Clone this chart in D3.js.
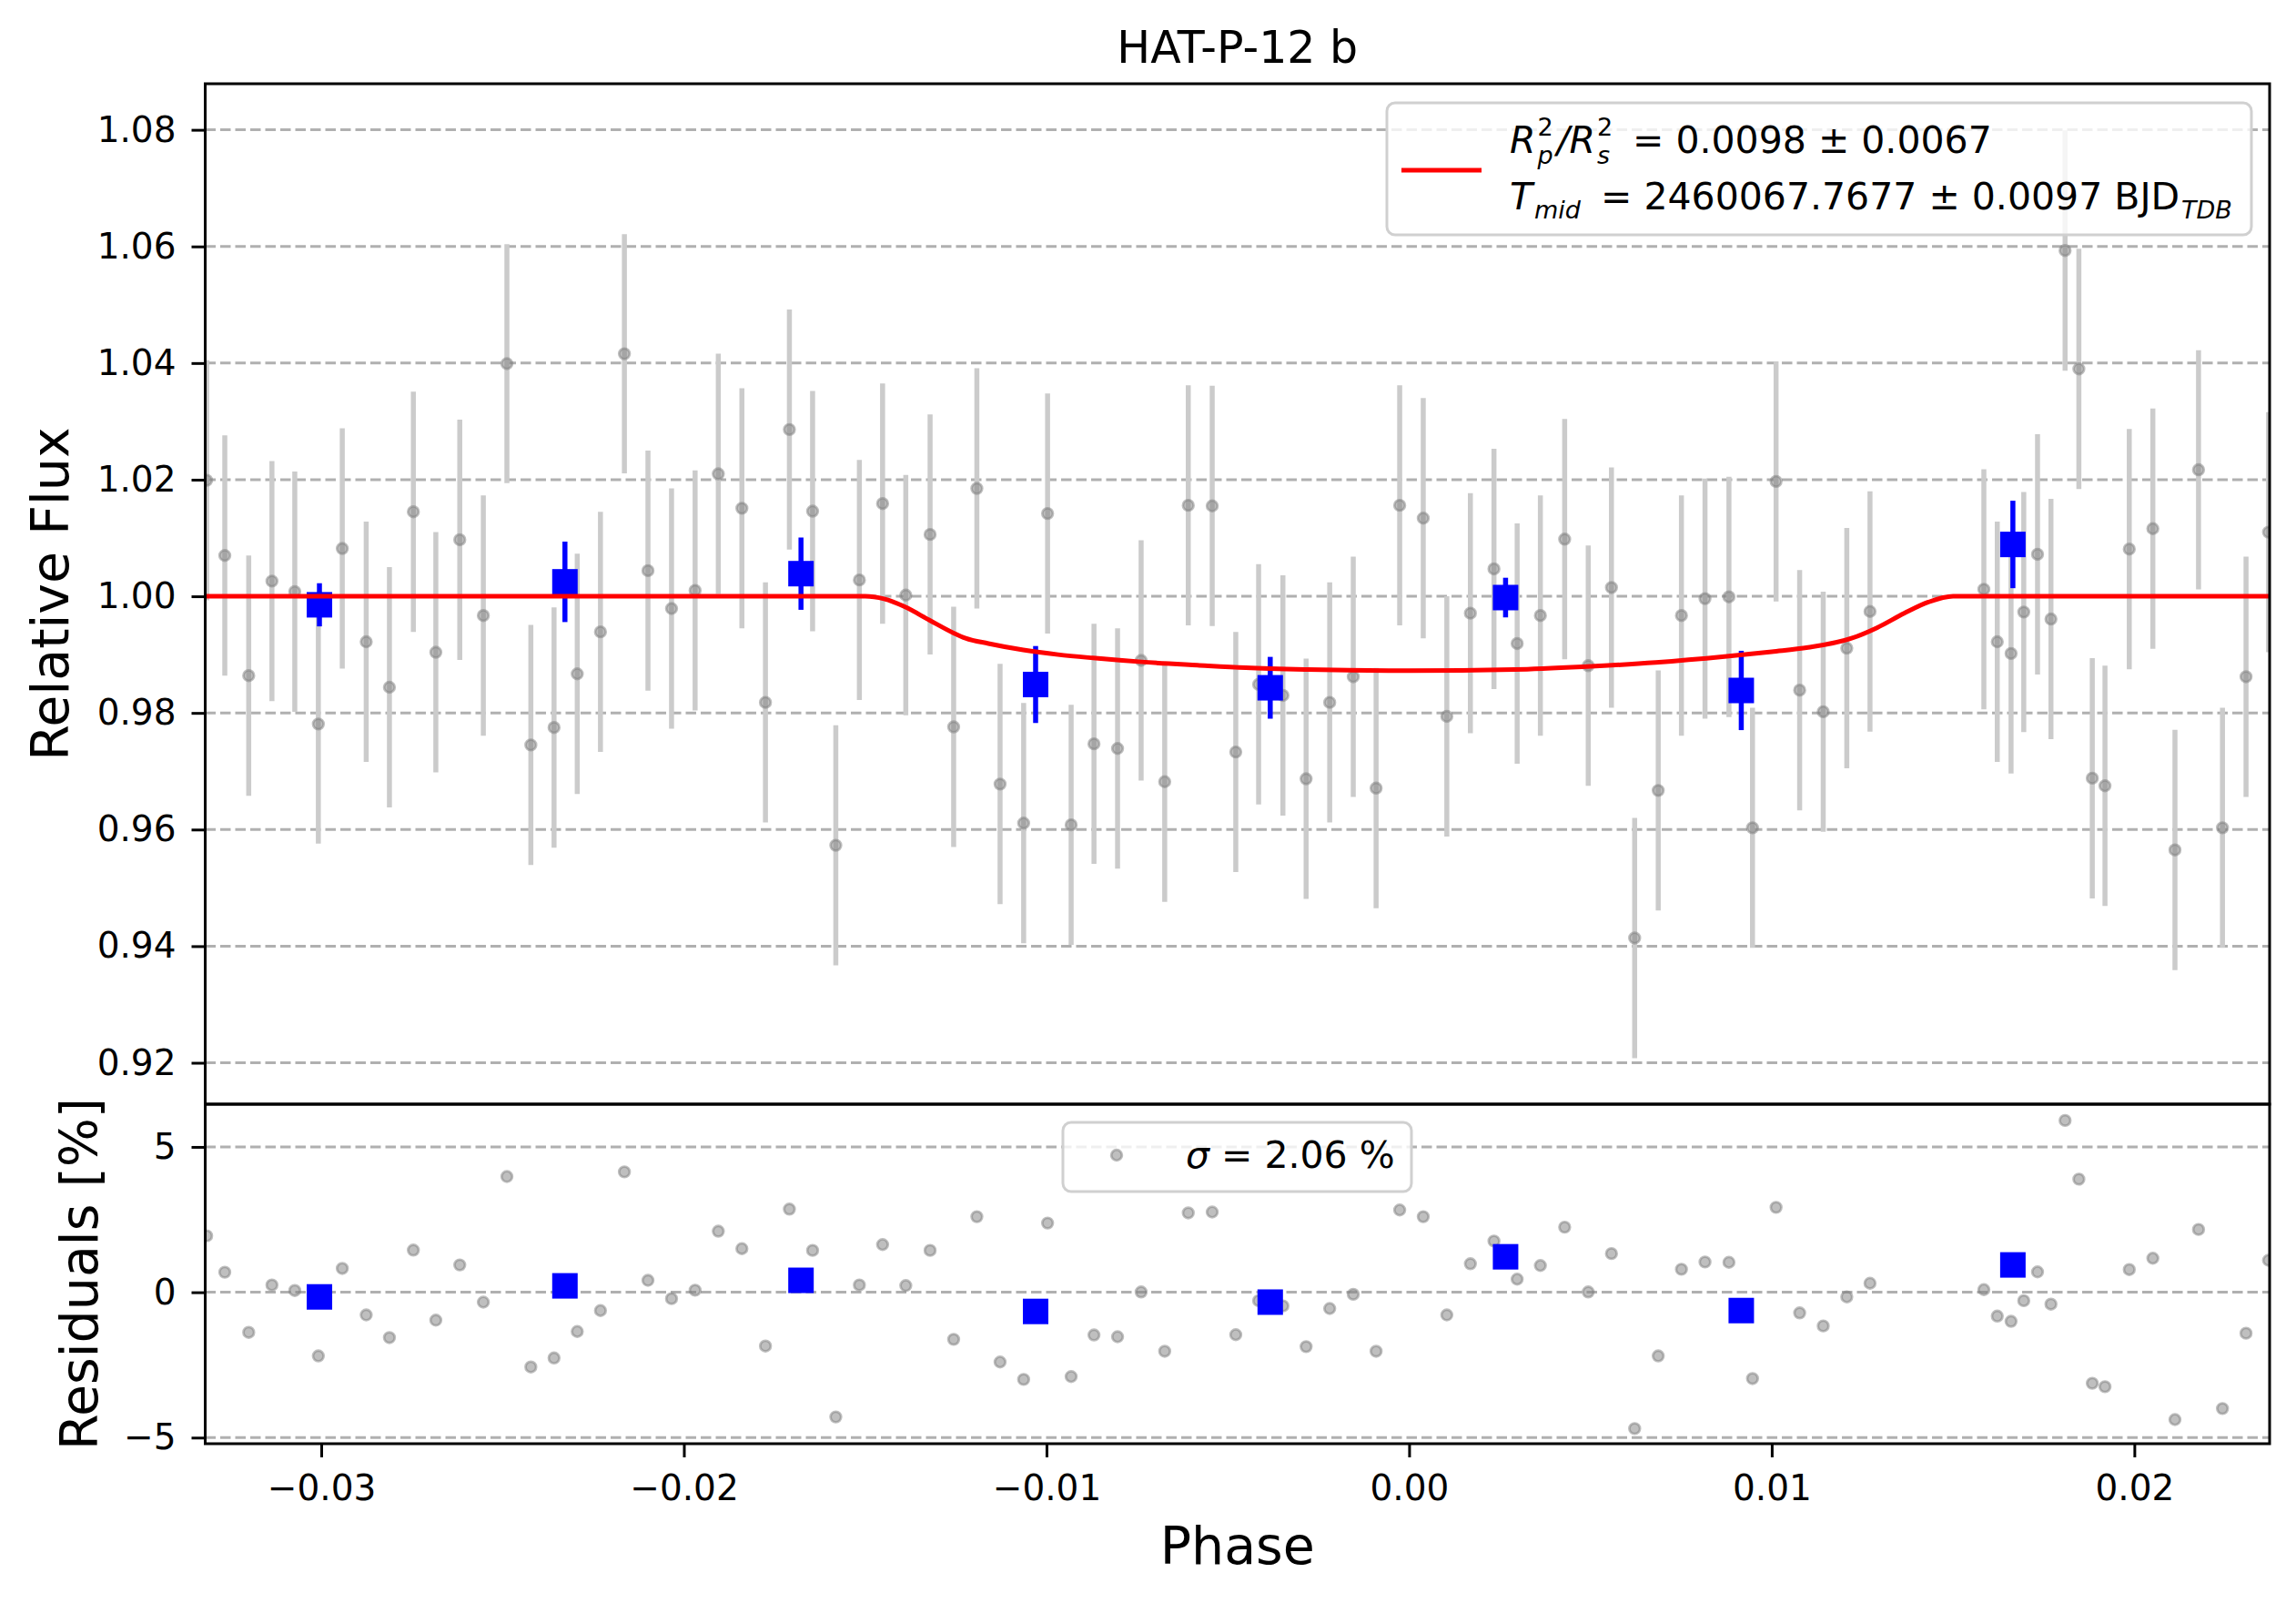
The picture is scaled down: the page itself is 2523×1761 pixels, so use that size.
<!DOCTYPE html>
<html>
<head>
<meta charset="utf-8">
<script src="https://cdn.jsdelivr.net/npm/d3@7"></script>
<style>
  html, body { margin: 0; padding: 0; background: #fff; }
  svg { display: block; font-family: 'DejaVu Sans', sans-serif; }
  .pre { white-space: pre; }
</style>
</head>
<body>
<svg id="chart" width="2523" height="1761"></svg>
<script>
// unbinned points
const PHASE = [
  -0.03316, -0.03266, -0.03200, -0.03136, -0.03073, -0.03008, -0.02942, -0.02876, -0.02812, -0.02746,
  -0.02684, -0.02618, -0.02553, -0.02488, -0.02422, -0.02358, -0.02294, -0.02230, -0.02164, -0.02099,
  -0.02034, -0.01969, -0.01905, -0.01840, -0.01775, -0.01709, -0.01645, -0.01581, -0.01516, -0.01452,
  -0.01388, -0.01321, -0.01256, -0.01192, -0.01128, -0.01063, -0.00997, -0.00932, -0.00869, -0.00804,
  -0.00739, -0.00674, -0.00609, -0.00543, -0.00478, -0.00415, -0.00348, -0.00284, -0.00219, -0.00154,
  -0.00091, -0.00026, 0.00039, 0.00104, 0.00169, 0.00234, 0.00298, 0.00362, 0.00429, 0.00494,
  0.00558, 0.00622, 0.00687, 0.00751, 0.00816, 0.00882, 0.00947, 0.01012, 0.01077, 0.01142,
  0.01207, 0.01271, 0.01585, 0.01622, 0.01660, 0.01695, 0.01733, 0.01770, 0.01809, 0.01847,
  0.01884, 0.01919, 0.01986, 0.02051, 0.02112, 0.02177, 0.02243, 0.02308, 0.02370
];
const FLUX = [
  1.0199, 1.0070, 0.9864, 1.0026, 1.0008, 0.9781, 1.0082, 0.9922, 0.9844, 1.0145,
  0.9904, 1.0097, 0.9967, 1.0399, 0.9745, 0.9775, 0.9867, 0.9939, 1.0416, 1.0044,
  0.9979, 1.0010, 1.0210, 1.0151, 0.9818, 1.0286, 1.0146, 0.9573, 1.0028, 1.0159,
  1.0002, 1.0106, 0.9776, 1.0185, 0.9678, 0.9611, 1.0142, 0.9608, 0.9747, 0.9739,
  0.9890, 0.9682, 1.0156, 1.0155, 0.9733, 0.9849, 0.9830, 0.9687, 0.9818, 0.9862,
  0.9671, 1.0156, 1.0134, 0.9794, 0.9971, 1.0047, 0.9919, 0.9967, 1.0098, 0.9881,
  1.0015, 0.9414, 0.9667, 0.9967, 0.9996, 0.9999, 0.9603, 1.0197, 0.9839, 0.9802,
  0.9911, 0.9974, 1.0012, 0.9922, 0.9902, 0.9973, 1.0072, 0.9961, 1.0593, 1.0390,
  0.9688, 0.9675, 1.0081, 1.0116, 0.9565, 1.0217, 0.9603, 0.9862, 1.0110
];
const FLUX_ERR = [
  0.0206, 0.0206, 0.0206, 0.0206, 0.0206, 0.0205, 0.0206, 0.0206, 0.0206, 0.0206,
  0.0206, 0.0206, 0.0206, 0.0205, 0.0206, 0.0206, 0.0206, 0.0206, 0.0205, 0.0206,
  0.0206, 0.0206, 0.0206, 0.0206, 0.0206, 0.0206, 0.0206, 0.0206, 0.0206, 0.0206,
  0.0206, 0.0206, 0.0206, 0.0206, 0.0206, 0.0206, 0.0206, 0.0206, 0.0206, 0.0206,
  0.0206, 0.0206, 0.0206, 0.0206, 0.0206, 0.0206, 0.0206, 0.0206, 0.0206, 0.0206,
  0.0206, 0.0206, 0.0206, 0.0206, 0.0206, 0.0206, 0.0206, 0.0206, 0.0206, 0.0206,
  0.0206, 0.0206, 0.0206, 0.0206, 0.0206, 0.0206, 0.0206, 0.0206, 0.0206, 0.0206,
  0.0206, 0.0206, 0.0206, 0.0206, 0.0206, 0.0206, 0.0206, 0.0206, 0.0206, 0.0206,
  0.0206, 0.0206, 0.0206, 0.0206, 0.0206, 0.0205, 0.0206, 0.0206, 0.0206
];
const RESID = [
  1.94, 0.69, -1.38, 0.25, 0.06, -2.19, 0.82, -0.78, -1.56, 1.45,
  -0.96, 0.94, -0.34, 3.98, -2.57, -2.26, -1.35, -0.63, 4.14, 0.41,
  -0.22, 0.07, 2.10, 1.50, -1.85, 2.86, 1.44, -4.29, 0.25, 1.64,
  0.23, 1.44, -1.62, 2.60, -2.40, -3.00, 2.38, -2.90, -1.47, -1.53,
  0.01, -2.03, 2.73, 2.76, -1.46, -0.29, -0.47, -1.87, -0.56, -0.07,
  -2.03, 2.83, 2.60, -0.78, 0.98, 1.76, 0.45, 0.92, 2.24, 0.01,
  1.33, -4.69, -2.19, 0.79, 1.04, 1.03, -2.97, 2.92, -0.71, -1.16,
  -0.16, 0.31, 0.09, -0.82, -1.00, -0.29, 0.70, -0.41, 5.91, 3.89,
  -3.13, -3.25, 0.78, 1.17, -4.38, 2.16, -4.00, -1.41, 1.10
];

// binned points
const BIN_PHASE = [-0.03005, -0.02328, -0.01677, -0.01030, -0.00383, 0.00266, 0.00916, 0.01665];
const BIN_FLUX = [0.99854, 1.00248, 1.00388, 0.98487, 0.98431, 0.99978, 0.98385, 1.00889];
const BIN_ERR = [0.0037, 0.0069, 0.0062, 0.0066, 0.0053, 0.0034, 0.0068, 0.0075];
const BIN_RESID = [-0.16, 0.22, 0.41, -0.66, -0.34, 1.22, -0.63, 0.94];

// transit model, sampled from the red curve
const MODEL_PHASE = [
  -0.0332, -0.0150, -0.01448, -0.01391, -0.01324, -0.01256, -0.01223, -0.0116, -0.01064, -0.00968,
  -0.00872, -0.00738, -0.00584, -0.0045, -0.0028, 0.0000, 0.0029, 0.0049, 0.0068, 0.0087,
  0.0100, 0.0110, 0.0122, 0.0129, 0.01365, 0.01432, 0.0150, 0.02373
];
const MODEL_FLUX = [
  1.0, 1.0, 0.99955, 0.9982, 0.99595, 0.9937, 0.9928, 0.9919, 0.9908, 0.9900,
  0.98942, 0.98875, 0.98819, 0.98775, 0.98745, 0.98725, 0.98745, 0.98796, 0.98864, 0.98965,
  0.99050, 0.99122, 0.9928, 0.9946, 0.99707, 0.9990, 1.0, 1.0
];

const FLUX_TICKS = [0.92, 0.94, 0.96, 0.98, 1.00, 1.02, 1.04, 1.06, 1.08];
const RESID_TICKS = [-5, 0, 5];
const PHASE_TICKS = [-0.03, -0.02, -0.01, 0.00, 0.01, 0.02];

const svg = d3.select('#chart');

const box = { left: 225.5, right: 2494, top: 92, mid: 1213, bottom: 1586 };

const x = d3.scaleLinear().domain([-0.0332, 0.02373]).range([box.left, box.right]);
const yFlux = d3.scaleLinear().domain([0.9129, 1.0879]).range([box.mid, box.top]);
const yRes = d3.scaleLinear().domain([-5.21, 6.47]).range([box.bottom, box.mid]);

const pts = PHASE.map((p, i) => ({ p, f: FLUX[i], e: FLUX_ERR[i], r: RESID[i] }));
const bins = BIN_PHASE.map((p, i) => ({ p, f: BIN_FLUX[i], e: BIN_ERR[i], r: BIN_RESID[i] }));
const model = MODEL_PHASE.map((p, i) => ({ p, f: MODEL_FLUX[i] }));

const defs = svg.append('defs');
defs.append('clipPath').attr('id', 'clipTop').append('rect')
  .attr('x', box.left).attr('y', box.top)
  .attr('width', box.right - box.left).attr('height', box.mid - box.top);
defs.append('clipPath').attr('id', 'clipBot').append('rect')
  .attr('x', box.left).attr('y', box.mid)
  .attr('width', box.right - box.left).attr('height', box.bottom - box.mid);

const GRID = '#b0b0b0';
const SQ = 28;

function grayDot(sel) {
  sel.attr('r', 5.8)
    .attr('fill', 'gray').attr('fill-opacity', 0.5)
    .attr('stroke', 'gray').attr('stroke-opacity', 0.5).attr('stroke-width', 2.8);
}

// ---------- flux panel ----------
const fluxG = svg.append('g').attr('clip-path', 'url(#clipTop)');

fluxG.selectAll('.grid').data(FLUX_TICKS).join('line')
  .attr('x1', box.left).attr('x2', box.right)
  .attr('y1', d => yFlux(d)).attr('y2', d => yFlux(d))
  .attr('stroke', GRID).attr('stroke-width', 3).attr('stroke-dasharray', '11.5,5');

fluxG.selectAll('.ebar').data(pts).join('line')
  .attr('x1', d => x(d.p)).attr('x2', d => x(d.p))
  .attr('y1', d => yFlux(d.f - d.e)).attr('y2', d => yFlux(d.f + d.e))
  .attr('stroke', '#cbcbcb').attr('stroke-width', 5.5);

fluxG.selectAll('.pt').data(pts).join('circle')
  .attr('cx', d => x(d.p)).attr('cy', d => yFlux(d.f))
  .call(grayDot);

fluxG.selectAll('.bbar').data(bins).join('line')
  .attr('x1', d => x(d.p)).attr('x2', d => x(d.p))
  .attr('y1', d => yFlux(d.f - d.e)).attr('y2', d => yFlux(d.f + d.e))
  .attr('stroke', 'blue').attr('stroke-width', 5.5);

fluxG.selectAll('.bsq').data(bins).join('rect')
  .attr('x', d => x(d.p) - SQ / 2).attr('y', d => yFlux(d.f) - SQ / 2)
  .attr('width', SQ).attr('height', SQ).attr('fill', 'blue');

fluxG.append('path')
  .datum(model)
  .attr('d', d3.line().x(d => x(d.p)).y(d => yFlux(d.f)).curve(d3.curveMonotoneX))
  .attr('fill', 'none').attr('stroke', 'red').attr('stroke-width', 5);

// ---------- residual panel ----------
const resG = svg.append('g').attr('clip-path', 'url(#clipBot)');

resG.selectAll('.grid').data(RESID_TICKS).join('line')
  .attr('x1', box.left).attr('x2', box.right)
  .attr('y1', d => yRes(d)).attr('y2', d => yRes(d))
  .attr('stroke', GRID).attr('stroke-width', 3).attr('stroke-dasharray', '11.5,5');

resG.selectAll('.pt').data(pts).join('circle')
  .attr('cx', d => x(d.p)).attr('cy', d => yRes(d.r))
  .call(grayDot);

resG.selectAll('.bsq').data(bins).join('rect')
  .attr('x', d => x(d.p) - SQ / 2).attr('y', d => yRes(d.r) - SQ / 2)
  .attr('width', SQ).attr('height', SQ).attr('fill', 'blue');

// ---------- legends ----------
// one text element of tspans placed at absolute x/y: {t, size, italic, gap, rise, stack, at}
// rise lifts the piece off the baseline, stack puts it at the x of the piece before (sub under sup)
function richText(parent, x0, y0, parts) {
  const t = parent.append('text').attr('class', 'pre')
    .attr('x', x0).attr('y', y0).attr('font-size', 41).attr('fill', '#000');
  let cx = x0, lastStart = x0, lastW = 0;
  parts.forEach(p => {
    let sx = p.stack ? lastStart : cx + (p.gap || 0);
    if (p.at != null) sx = p.at;
    const s = t.append('tspan')
      .attr('x', sx).attr('y', y0 - (p.rise || 0))
      .attr('font-size', p.size || 41)
      .attr('font-style', p.italic ? 'italic' : 'normal')
      .text(p.t);
    const w = s.node().getComputedTextLength();
    cx = p.stack ? sx + Math.max(w, lastW) : sx + w;
    lastStart = sx; lastW = w;
  });
  return t;
}

const SUP = 27;
const leg = svg.append('g');
leg.append('rect')
  .attr('x', 1524).attr('y', 113).attr('width', 950).attr('height', 145).attr('rx', 9)
  .attr('fill', '#fff').attr('fill-opacity', 0.8)
  .attr('stroke', '#d0d0d0').attr('stroke-width', 3);
leg.append('line')
  .attr('x1', 1540).attr('x2', 1628).attr('y1', 187).attr('y2', 187)
  .attr('stroke', 'red').attr('stroke-width', 5);
richText(leg, 1659, 168, [
  { t: 'R', italic: true },
  { t: '2', size: SUP, gap: 2, rise: 19 },
  { t: 'p', size: SUP, italic: true, rise: -12, stack: true },
  { t: '/', italic: true, gap: 4 },
  { t: 'R', italic: true },
  { t: '2', size: SUP, gap: 2, rise: 19 },
  { t: 's', size: SUP, italic: true, rise: -12, stack: true },
  { t: '= 0.0098 \u00b1 0.0067', at: 1794 }
]);
richText(leg, 1659, 230, [
  { t: 'T', italic: true },
  { t: 'mid', size: SUP, italic: true, gap: 2, rise: -10 },
  { t: '= 2460067.7677 \u00b1 0.0097 BJD', at: 1759 },
  { t: 'TDB', size: SUP, italic: true, gap: 2, rise: -10 }
]);

const leg2 = svg.append('g');
leg2.append('rect')
  .attr('x', 1168).attr('y', 1233).attr('width', 383).attr('height', 76).attr('rx', 9)
  .attr('fill', '#fff').attr('fill-opacity', 0.8)
  .attr('stroke', '#d0d0d0').attr('stroke-width', 3);
leg2.append('circle').attr('cx', 1227).attr('cy', 1269).call(grayDot);
richText(leg2, 1303, 1283, [
  { t: '\u03c3', italic: true },
  { t: ' = 2.06 %' }
]);

// ---------- frames and axes ----------
[[box.top, box.mid], [box.mid, box.bottom]].forEach(([t, b]) => {
  svg.append('rect')
    .attr('x', box.left).attr('y', t).attr('width', box.right - box.left).attr('height', b - t)
    .attr('fill', 'none').attr('stroke', '#000').attr('stroke-width', 3);
});

function styleAxis(g) {
  g.select('.domain').remove();
  g.selectAll('.tick line').attr('stroke', '#000').attr('stroke-width', 3);
  g.selectAll('.tick text')
    .attr('fill', '#000').attr('font-size', 39)
    .attr('font-family', "'DejaVu Sans', sans-serif");
}

svg.append('g')
  .attr('transform', `translate(${box.left},0)`)
  .call(d3.axisLeft(yFlux).tickValues(FLUX_TICKS).tickFormat(d3.format('.2f')).tickSize(15).tickPadding(17))
  .call(styleAxis);

svg.append('g')
  .attr('transform', `translate(${box.left},0)`)
  .call(d3.axisLeft(yRes).tickValues(RESID_TICKS).tickFormat(d3.format('d')).tickSize(15).tickPadding(17))
  .call(styleAxis);

svg.append('g')
  .attr('transform', `translate(0,${box.bottom})`)
  .call(d3.axisBottom(x).tickValues(PHASE_TICKS).tickFormat(d3.format('.2f')).tickSize(15).tickPadding(19))
  .call(styleAxis);

// ---------- titles ----------
svg.append('text')
  .attr('x', (box.left + box.right) / 2).attr('y', 69)
  .attr('text-anchor', 'middle').attr('font-size', 49)
  .text('HAT-P-12 b');

svg.append('text')
  .attr('x', (box.left + box.right) / 2).attr('y', 1718)
  .attr('text-anchor', 'middle').attr('font-size', 57)
  .text('Phase');

svg.append('text')
  .attr('transform', `translate(75,${(box.top + box.mid) / 2}) rotate(-90)`)
  .attr('text-anchor', 'middle').attr('font-size', 57)
  .text('Relative Flux');

svg.append('text')
  .attr('transform', `translate(107,${(box.mid + box.bottom) / 2}) rotate(-90)`)
  .attr('text-anchor', 'middle').attr('font-size', 57)
  .text('Residuals [%]');
</script>
</body>
</html>
